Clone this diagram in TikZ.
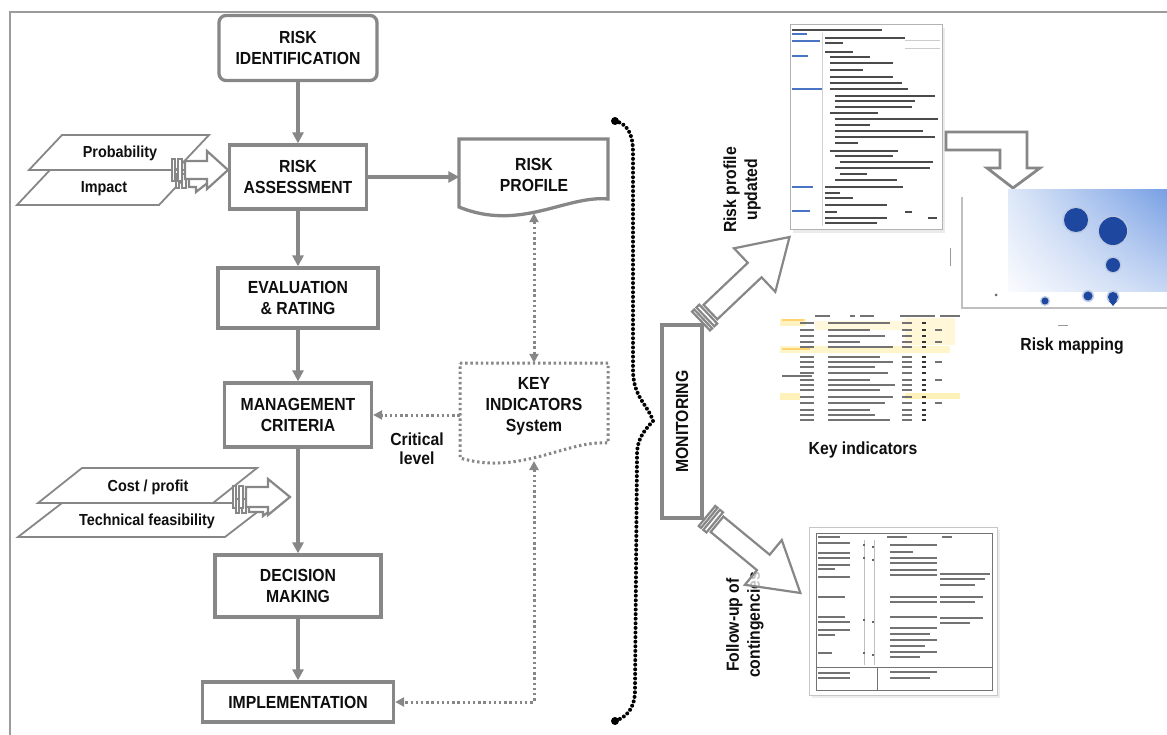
\documentclass[tikz,border=0pt]{standalone}
\usepackage{fontspec}
\setmainfont{Liberation Sans}[FakeStretch=0.9]
\usetikzlibrary{arrows.meta,calc,shadings}

\definecolor{linegray}{RGB}{135,135,135}
\definecolor{framegray}{RGB}{155,155,155}
\definecolor{textblack}{RGB}{15,15,15}
\definecolor{docink}{RGB}{75,75,75}
\definecolor{tableink}{RGB}{115,115,115}
\definecolor{docblue}{RGB}{75,115,195}
\definecolor{bubble}{RGB}{30,72,160}
\definecolor{hilite}{RGB}{255,232,140}
\definecolor{mapUL}{RGB}{222,232,248}
\definecolor{mapUR}{RGB}{120,160,228}
\definecolor{mapLL}{RGB}{250,251,254}
\definecolor{mapLR}{RGB}{200,216,244}

\newcommand{\lblfont}{\fontsize{17.5}{21}\selectfont\bfseries}
\newcommand{\smallfont}{\fontsize{16}{19}\selectfont\bfseries}

% striped block arrow in local coordinates, pointing along +x
% #1 length, #2 body half-width, #3 head half-width, #4 head length, #5 stripe half-width
\newcommand{\stripedarrow}[5]{%
  \filldraw[blockarrow] (0,-#5) rectangle (3,#5);
  \filldraw[blockarrow] (6,-#5) rectangle (10,#5);
  \filldraw[blockarrow] (13,-#2) -- ({#1-#4},-#2) -- ({#1-#4},-#3) -- (#1,0)
     -- ({#1-#4},#3) -- ({#1-#4},#2) -- (13,#2) -- cycle;
}

\tikzset{
  stepbox/.style={draw=linegray, line width=3.3pt, fill=white, align=center,
    font=\lblfont, text=textblack, inner sep=0pt},
  plain/.style={align=center, font=\lblfont, text=textblack, inner sep=0pt},
  outline/.style={draw=linegray, line width=3.3pt, fill=white},
  dotoutline/.style={draw=linegray, line width=3pt, dash pattern=on 2.4pt off 2.8pt, fill=white},
  slanted/.style={draw=linegray, line width=1.8pt, fill=white},
  flow/.style={draw=linegray, line width=3.4pt, -{Triangle[length=11pt,width=11pt]}},
  dotflow/.style={draw=linegray, line width=3pt, dash pattern=on 2.4pt off 2.8pt,
    -{Triangle[length=9pt,width=9pt]}},
  dotlink/.style={draw=linegray, line width=3pt, dash pattern=on 2.4pt off 2.8pt,
    {Triangle[length=9pt,width=9pt]}-{Triangle[length=9pt,width=9pt]}},
  blockarrow/.style={draw=linegray, line width=2.2pt, fill=white, line join=miter},
  brace/.style={draw=black, line width=4pt, line cap=round, dash pattern=on 0pt off 4.6pt},
  inkline/.style={docink, line width=2pt},
  blueline/.style={docblue, line width=2pt},
  tabline/.style={tableink, line width=1.7pt},
}

\begin{document}
\begin{tikzpicture}[x=1pt,y=-1pt]
\useasboundingbox (0,0) rectangle (1167,735);
\fill[white] (0,0) rectangle (1167,735);

% outer frame
\draw[framegray, line width=2.2pt] (10,735) -- (10,12) -- (1167,12);

% ---------- main process column ----------
\node[stepbox, rounded corners=7pt, minimum width=158pt, minimum height=65pt] (rid) at (298,48) {RISK\\IDENTIFICATION};
\node[stepbox, minimum width=137pt, minimum height=64pt] (ras) at (298,177) {RISK\\ASSESSMENT};
\node[stepbox, minimum width=160pt, minimum height=60pt] (eval) at (298,298) {EVALUATION\\\& RATING};
\node[stepbox, minimum width=147pt, minimum height=64pt] (mc) at (298,415) {MANAGEMENT\\CRITERIA};
\node[stepbox, minimum width=166pt, minimum height=62pt] (dm) at (298,586) {DECISION\\MAKING};
\node[stepbox, minimum width=191pt, minimum height=40pt] (impl) at (298,702) {IMPLEMENTATION};

\draw[flow] (rid) -- (ras);
\draw[flow] (ras) -- (eval);
\draw[flow] (eval) -- (mc);
\draw[flow] (mc) -- (dm);
\draw[flow] (dm) -- (impl);

% ---------- inputs: probability / impact ----------
\filldraw[slanted] (50,170) -- (192,170) -- (159,205) -- (17,205) -- cycle;
\filldraw[slanted] (62,135) -- (209,135) -- (176,170) -- (29,170) -- cycle;
\node[plain, font=\smallfont] (prob) at (120,153) {Probability};
\node[plain, font=\smallfont] (imp) at (104,189) {Impact};
\begin{scope}[shift={(176,181)}] \stripedarrow{34}{6}{11}{14}{7} \end{scope}
\begin{scope}[shift={(172,170)}] \stripedarrow{56}{9}{19}{21}{11} \end{scope}

% ---------- inputs: cost / feasibility ----------
\filldraw[slanted] (62,503) -- (269,503) -- (225,537) -- (18,537) -- cycle;
\filldraw[slanted] (82,468) -- (257,468) -- (213,503) -- (38,503) -- cycle;
\node[plain, font=\smallfont] (cost) at (148,487) {Cost / profit};
\node[plain, font=\smallfont] (tech) at (147,521) {Technical feasibility};
\begin{scope}[shift={(236,506)}] \stripedarrow{40}{6}{10}{13}{7} \end{scope}
\begin{scope}[shift={(233,497)}] \stripedarrow{57}{10}{18}{22}{11} \end{scope}

% ---------- risk profile document ----------
\filldraw[outline] (459,139) -- (608,139) -- (608,199)
   .. controls (566,195) and (520,232) .. (459,207) -- cycle;
\node[plain, minimum width=149pt, minimum height=76pt] (rp) at (534,175) {RISK\\PROFILE};
\draw[flow] (ras.east) -- (ras.east -| rp.west);

% ---------- key indicators system ----------
\filldraw[dotoutline] (460,363) -- (608,363) -- (608,443)
   .. controls (566,440) and (520,476) .. (460,458) -- cycle;
\node[plain, minimum width=148pt, minimum height=86pt] (ki) at (534,406) {KEY\\INDICATORS\\System};
\coordinate (kib) at (534,461);

\draw[dotlink] (rp.south) -- (ki.north);
\draw[dotflow] (ki.west |- mc.east) -- (mc.east);
\draw[dotlink] (kib) |- (impl.east);
\node[plain, font=\fontsize{17.5}{19}\selectfont\bfseries] (crit) at (417,449) {Critical\\level};

% ---------- brace ----------
\draw[brace] (615,121) .. controls (628,124) and (633,135) .. (633,152) -- (633,372)
   .. controls (634,398) and (648,405) .. (653,421)
   .. controls (645,430) and (637,438) .. (637,455) -- (635,690)
   .. controls (635,708) and (627,717) .. (615,721);
\fill (615,121) circle[radius=4pt];
\fill (615,721) circle[radius=4pt];

% ---------- monitoring ----------
\node[stepbox, rotate=90, minimum width=193pt, minimum height=40pt] (mon) at (682,421.5) {MONITORING};

% ---------- risk profile screenshot ----------
\fill[black!8] (793,28) rectangle (945,233);
\filldraw[draw=black!30, fill=white, line width=1pt] (790,25) rectangle (942,230);
\draw[black!18, line width=0.8pt] (822,33) -- (822,226);
\foreach \a/\b/\y in {792/882/30, 825/905/38, 825/843/43, 825/853/52, 830/870/57, 830/893/63,
  830/863/70, 830/893/77, 830/902/83, 830/908/89, 835/935/96, 835/915/101, 835/912/107,
  830/878/113, 835/938/119, 835/870/125, 835/923/131, 835/935/137, 835/858/143, 830/898/151,
  835/893/156, 840/933/162, 835/930/168, 840/867/174, 835/897/180, 825/903/187, 825/840/193,
  825/853/198, 825/887/205, 825/837/212, 905/912/212, 825/887/218, 928/937/218, 825/877/223}
  \draw[inkline] (\a,\y) -- (\b,\y);
\foreach \a/\b/\y in {792/807/34, 792/820/41, 792/808/56, 792/822/89, 792/813/187, 792/810/211}
  \draw[blueline] (\a,\y) -- (\b,\y);
\draw[black!20, line width=0.8pt] (905,40) -- (940,40) (905,48) -- (940,48);

% ---------- arrow to risk map ----------
\filldraw[blockarrow, line width=2.8pt] (946,132) -- (1027,132) -- (1027,168) -- (1040,168)
  -- (1013,188) -- (987,168) -- (1000,168) -- (1000,150) -- (946,150) -- cycle;

% ---------- risk map chart ----------
\shade[upper left=mapUL, upper right=mapUR, lower left=mapLL, lower right=mapLR]
  (1008,190) rectangle (1167,292);
\draw[black!25, line width=1.4pt] (962,197) -- (962,308) -- (1167,308);
\draw[black!40, line width=0.8pt] (950,248) -- (950,266);
\draw[black!40, line width=1pt] (1058,325) -- (1068,325);
\foreach \x/\y/\r in {1076/220/12, 1113/231/14, 1113/265/7, 1045/301/3.5, 1088/296/4.5, 1113/297/5}{
  \fill[bubble!30] (\x,\y) circle[radius=\r pt+1.5pt];
  \fill[bubble] (\x,\y) circle[radius=\r pt];
}
\fill[bubble] (1109,301) -- (1117,301) -- (1113,306) -- cycle;
\fill[black!60] (996,295) circle[radius=1.5pt];
\node[plain] (map) at (1072,346) {Risk mapping};

% ---------- key indicators table ----------
\fill[hilite!55] (780,319) rectangle (806,326);
\fill[hilite!30] (815,321) rectangle (920,330);
\fill[hilite!35] (905,318) rectangle (955,345);
\fill[hilite!45] (780,346) rectangle (950,353);
\fill[hilite!60] (780,393) rectangle (800,400);
\fill[hilite!60] (905,393) rectangle (960,399);
\foreach \a/\b in {815/830, 850/855, 860/874, 900/935, 940/960}
  \draw[tableink, line width=1.2pt] (\a,316) -- (\b,316);
\foreach \y/\e in {323/890, 330/870, 336/885, 342/860, 347/893, 357/880, 362/893, 367/875,
  373/888, 380/870, 385/895, 390/880, 397/893, 403/885, 410/870, 415/875, 420/890}{
  \draw[tabline] (800,\y) -- (814,\y);
  \draw[tabline] (828,\y) -- (\e,\y);
  \draw[tabline] (902,\y) -- (912,\y);
  \draw[black!80, line width=2.2pt] (922,\y) -- (926,\y);
}
\foreach \y in {330, 342, 362, 380, 403}
  \draw[tabline] (935,\y) -- (942,\y);
\draw[tabline] (782,376) -- (812,376);
\draw[hilite!80!orange, line width=1.6pt] (782,320) -- (804,320) (782,349) -- (810,349);
\node[plain] (kin) at (863,450) {Key indicators};

% ---------- follow-up screenshot ----------
\fill[black!7] (812,530) rectangle (1000,698);
\filldraw[draw=black!22, fill=white, line width=1pt] (809,527) rectangle (997,695);
\draw[black!55, line width=1pt] (816,533) rectangle (992,690);
\draw[black!55, line width=1pt] (816,667) -- (992,667) (877,667) -- (877,690);
\draw[black!25, line width=0.6pt] (864,540) -- (864,665) (874,540) -- (874,665);
\foreach \a/\b/\y in {818/840/537, 818/850/543, 818/850/553, 818/850/558, 818/850/565, 818/835/569,
  818/850/577, 818/845/597, 818/845/617, 818/850/622, 818/850/630, 818/835/635, 818/832/653,
  818/850/673, 818/850/678,
  887/907/537, 942/952/537, 890/937/545, 890/913/552, 890/937/558, 890/937/563, 890/937/570,
  890/937/575, 890/937/597, 890/937/602, 890/937/617, 890/937/628, 890/930/634, 890/937/640,
  890/925/646, 890/937/652, 890/920/657, 890/937/672, 890/930/678,
  940/990/574, 940/985/579, 940/975/585, 940/983/597, 940/975/602, 940/983/618, 940/970/623}
  \draw[tableink, line width=2.4pt] (\a,\y) -- (\b,\y);
\foreach \y in {545, 558, 620, 653}
  \draw[black!60, line width=1.6pt] (863,\y) -- (865,\y) (872,\y+2) -- (874,\y+2);

% ---------- monitoring outputs ----------
\node[plain, rotate=90] (rpu) at (742,190) {Risk profile\\updated};
\node[plain, rotate=90] (fuc) at (745,625) {Follow-up of\\contingencies};
\begin{scope}[shift={(701,321)}, rotate=43.5] \stripedarrow{122}{10}{30}{48}{13} \end{scope}
\begin{scope}[shift={(707,516)}, rotate=-39.5, fill opacity=0.75] \stripedarrow{121}{10}{29}{48}{13} \end{scope}

\end{tikzpicture}
\end{document}
